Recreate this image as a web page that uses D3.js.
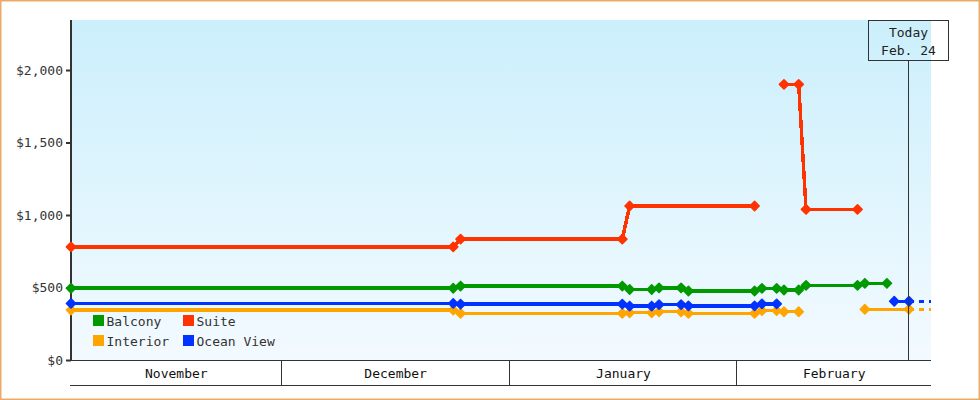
<!DOCTYPE html>
<html>
<head>
<meta charset="utf-8">
<script src="https://cdn.jsdelivr.net/npm/d3@7"></script>
<style>
  html, body { margin: 0; padding: 0; background: #fff; }
  svg { display: block; }
  text { font-family: "DejaVu Sans Mono", monospace; font-size: 13px; }
</style>
</head>
<body>
<svg id="chart" width="980" height="400"></svg>
<script>
// ---- data ----
const seriesNames = ["Balcony", "Suite", "Interior", "Ocean View"];
const seriesColors = ["#009900", "#ff3300", "#ffa500", "#0033ff"];
const yTicks = [0, 500, 1000, 1500, 2000];
const monthLabels = ["November", "December", "January", "February"];
const todayDate = "2015-02-24";
const todayLabel = ["Today", "Feb. 24"];
const domainStart = "2014-11-02";
const domainEnd = "2015-02-27";

// each entry [date, price]; null marks a break in the line
const balcony = [
  ["2014-11-02", 495], ["2014-12-24", 495], ["2014-12-25", 510], ["2015-01-16", 510],
  ["2015-01-17", 486], ["2015-01-20", 486], ["2015-01-21", 497], ["2015-01-24", 497],
  ["2015-01-25", 476], ["2015-02-03", 476], ["2015-02-04", 494], ["2015-02-06", 494],
  ["2015-02-07", 483], ["2015-02-09", 483], ["2015-02-10", 515], ["2015-02-17", 515],
  ["2015-02-18", 529], ["2015-02-21", 529]
];
const suite = [
  ["2014-11-02", 780], ["2014-12-24", 780], ["2014-12-25", 834], ["2015-01-16", 834],
  ["2015-01-17", 1062], ["2015-02-03", 1062], null,
  ["2015-02-07", 1901], ["2015-02-09", 1901], ["2015-02-10", 1039], ["2015-02-17", 1039]
];
const interior = [
  ["2014-11-02", 345], ["2014-12-24", 345], ["2014-12-25", 322], ["2015-01-16", 322],
  ["2015-01-17", 326], ["2015-01-20", 326], ["2015-01-21", 333], ["2015-01-24", 333],
  ["2015-01-25", 322], ["2015-02-03", 322], ["2015-02-04", 340], ["2015-02-06", 340],
  ["2015-02-07", 333], ["2015-02-09", 333], null,
  ["2015-02-18", 350], ["2015-02-24", 350]
];
const oceanView = [
  ["2014-11-02", 390], ["2014-12-24", 390], ["2014-12-25", 385], ["2015-01-16", 385],
  ["2015-01-17", 372], ["2015-01-20", 372], ["2015-01-21", 382], ["2015-01-24", 382],
  ["2015-01-25", 373], ["2015-02-03", 373], ["2015-02-04", 387], ["2015-02-06", 387], null,
  ["2015-02-22", 405], ["2015-02-24", 405]
];
const seriesData = [balcony, suite, interior, oceanView];

// ---- layout ----
const svg = d3.select("#chart");
const W = 980, H = 400;
const m = { left: 71, right: 49, top: 20, bottom: 40 };
const x0 = m.left, x1 = W - m.right, y0 = H - m.bottom, y1 = m.top;

const parse = s => new Date(s + "T08:00:00");
const x = d3.scaleTime().domain([parse(domainStart), parse(domainEnd)]).range([x0, x1]);
const y = d3.scaleLinear().domain([0, 2345]).range([y0, y1]);

// outer border
svg.append("rect").attr("x", 0.75).attr("y", 0.75).attr("width", W - 1.5).attr("height", H - 1.5)
  .attr("fill", "#fff").attr("stroke", "#e9ac68").attr("stroke-width", 1.5);

// gradient background
const defs = svg.append("defs");
const grad = defs.append("linearGradient").attr("id", "bg").attr("x1", 0).attr("y1", 0).attr("x2", 0).attr("y2", 1);
grad.append("stop").attr("offset", "0%").attr("stop-color", "#cbeffc");
grad.append("stop").attr("offset", "100%").attr("stop-color", "#f3faff");
defs.append("clipPath").attr("id", "clip").append("rect")
  .attr("x", x0 - 10).attr("y", y1 - 10).attr("width", x1 - x0 + 10).attr("height", y0 - y1 + 20);

svg.append("rect").attr("x", x0).attr("y", y1).attr("width", x1 - x0).attr("height", y0 - y1)
  .attr("fill", "url(#bg)");

// y axis
const yAxis = d3.axisLeft(y).tickValues(yTicks).tickFormat(d3.format("$,")).tickSize(5).tickPadding(3);
const gy = svg.append("g").attr("transform", `translate(${x0},0)`).call(yAxis);
gy.select(".domain").remove();
gy.selectAll(".tick line").attr("stroke", "#333").attr("stroke-width", 2);
gy.selectAll(".tick text").attr("fill", "#333").style("font-family", "DejaVu Sans Mono").style("font-size", "13px");
svg.append("line").attr("x1", x0).attr("x2", x0).attr("y1", y1).attr("y2", y0 + 1)
  .attr("stroke", "#333").attr("stroke-width", 2);

// x axis (month bands)
svg.append("line").attr("x1", x0).attr("x2", x1).attr("y1", y0 + 0.5).attr("y2", y0 + 0.5)
  .attr("stroke", "#333").attr("stroke-width", 1);
svg.append("line").attr("x1", x0 - 1).attr("x2", x1).attr("y1", 385.5).attr("y2", 385.5)
  .attr("stroke", "#333").attr("stroke-width", 1);
const [ds, de] = x.domain();
const months = d3.timeMonth.range(d3.timeMonth.floor(ds), de);
months.forEach((mo, i) => {
  const a = Math.max(x(mo), x0);
  const b = Math.min(x(d3.timeMonth.offset(mo, 1)), x1);
  if (mo > ds) {
    const sx = Math.round(x(mo)) - 0.5;
    svg.append("line").attr("x1", sx).attr("x2", sx).attr("y1", y0).attr("y2", 385)
      .attr("stroke", "#333").attr("stroke-width", 1);
  }
  svg.append("text").attr("x", (a + b) / 2).attr("y", 378).attr("text-anchor", "middle")
    .attr("fill", "#111").text(monthLabels[i]);
});

// lines
const plot = svg.append("g").attr("clip-path", "url(#clip)");
const line = d3.line().defined(d => d !== null).x(d => x(parse(d[0]))).y(d => y(d[1]));
const diamond = "M0,-4.6L4.6,0L0,4.6L-4.6,0Z";

seriesData.forEach((data, i) => {
  const col = seriesColors[i];
  plot.append("path").datum(data).attr("d", line)
    .attr("fill", "none").attr("stroke", col).attr("stroke-width", 3.5)
    .attr("shape-rendering", "crispEdges");
  const pts = data.filter(d => d !== null);
  const last = pts[pts.length - 1];
  if (last[0] === todayDate) {
    plot.append("line")
      .attr("x1", x(parse(last[0]))).attr("x2", x(parse(domainEnd)))
      .attr("y1", y(last[1])).attr("y2", y(last[1]))
      .attr("stroke", col).attr("stroke-width", 3.5).attr("stroke-dasharray", "5,5")
      .attr("shape-rendering", "crispEdges");
  }
  plot.selectAll(null).data(pts).enter().append("path")
    .attr("d", diamond)
    .attr("transform", d => `translate(${x(parse(d[0]))},${y(d[1])})`)
    .attr("fill", col).attr("stroke", col).attr("stroke-width", 1.6).attr("stroke-linejoin", "round");
});

// today marker
const tx = Math.round(x(parse(todayDate))) - 0.5;
svg.append("line").attr("x1", tx).attr("x2", tx).attr("y1", 60).attr("y2", y0)
  .attr("stroke", "#333").attr("stroke-width", 1);
svg.append("rect").attr("x", 868.5).attr("y", 20.5).attr("width", 80).attr("height", 40)
  .attr("fill", "none").attr("stroke", "#333").attr("stroke-width", 1);
svg.append("text").attr("x", 908.5).attr("y", 37).attr("text-anchor", "middle").attr("fill", "#222").text(todayLabel[0]);
svg.append("text").attr("x", 908.5).attr("y", 55).attr("text-anchor", "middle").attr("fill", "#222").text(todayLabel[1]);

// legend
const legendPos = [[93, 315], [183, 315], [93, 335], [183, 335]];
seriesNames.forEach((name, i) => {
  const [lx, ly] = legendPos[i];
  svg.append("rect").attr("x", lx).attr("y", ly).attr("width", 11).attr("height", 11).attr("fill", seriesColors[i]);
  svg.append("text").attr("x", lx + 13.5).attr("y", ly + 10.5).attr("fill", "#333").text(name);
});
</script>
</body>
</html>
